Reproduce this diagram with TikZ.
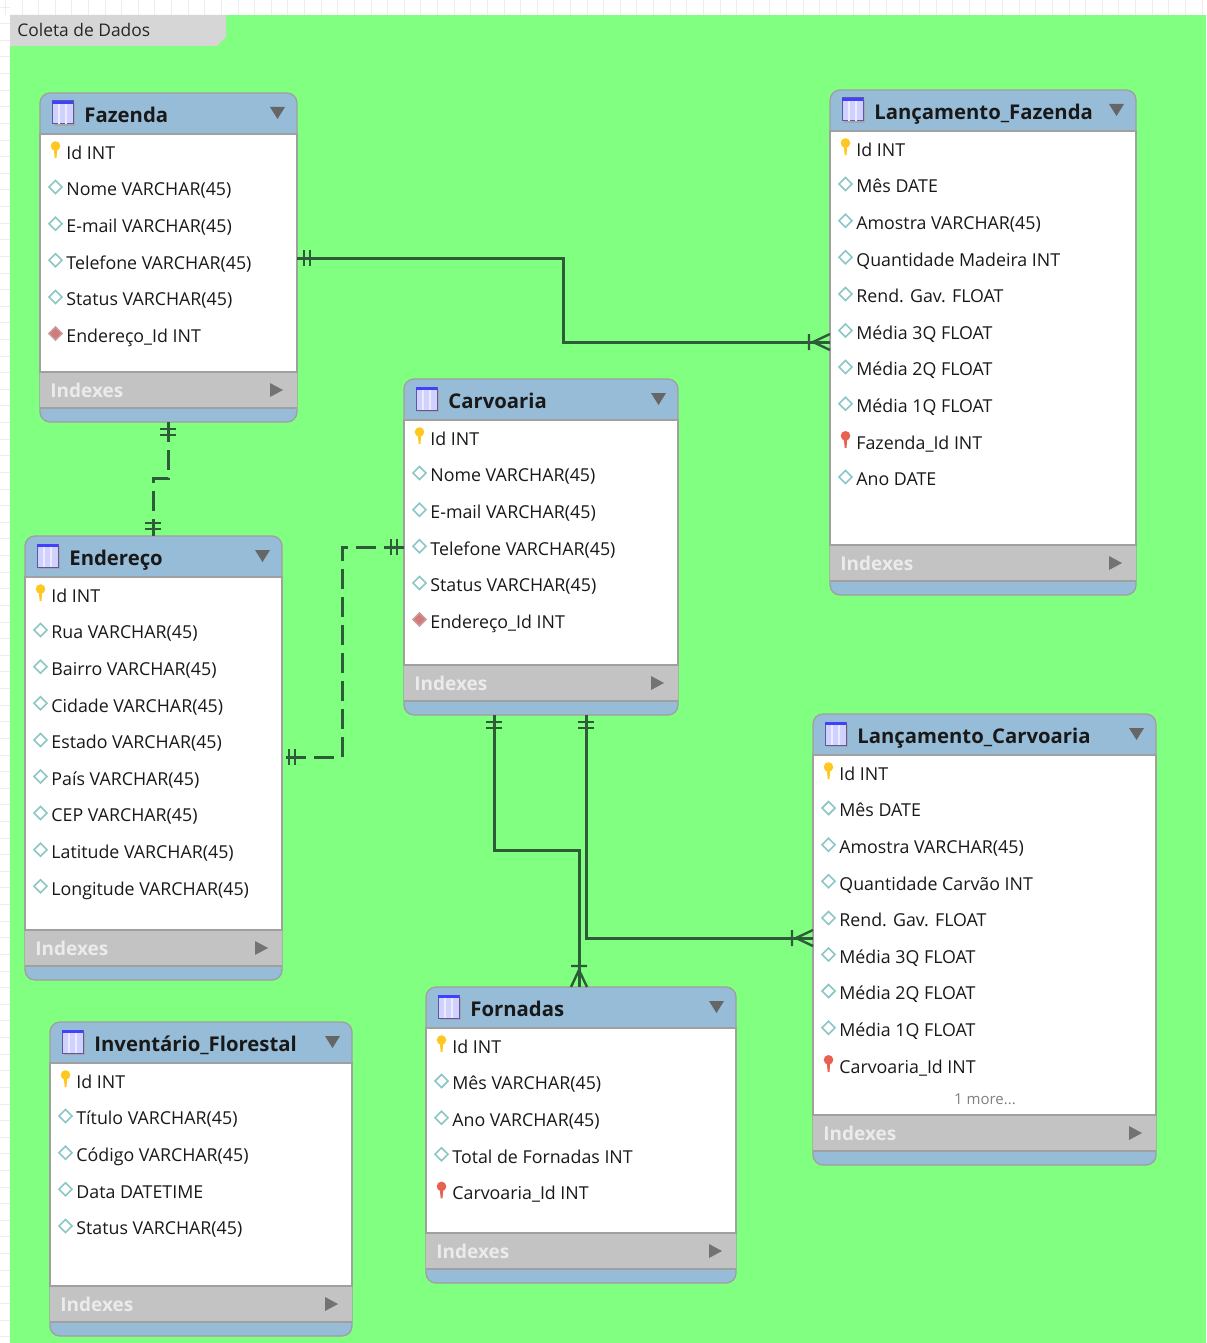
\documentclass[tikz,border=0pt]{standalone}
\usepackage{fontspec}
\setmainfont{Open Sans}
\usetikzlibrary{calc}
\definecolor{layerbg}{HTML}{80FF80}
\definecolor{headblue}{HTML}{96BCD8}
\definecolor{idxgray}{HTML}{C3C3C3}
\definecolor{tabgray}{HTML}{D6D6D6}
\definecolor{linegray}{HTML}{A0A0A0}
\definecolor{relgreen}{HTML}{2F5C38}
\definecolor{gridgray}{HTML}{EDEDED}
\definecolor{keyyellow}{HTML}{FFC820}
\definecolor{keyred}{HTML}{E8604F}
\tikzstyle{tablebox}=[rectangle,draw=linegray,line width=0.65pt,fill=headblue,rounded corners=5pt,inner sep=0pt,outer sep=0pt]
\tikzstyle{rowtext}=[anchor=base west,inner sep=0pt,font=\fontsize{8.9}{11}\selectfont,text=black!90]
\tikzstyle{titletext}=[anchor=base west,inner sep=0pt,font=\fontsize{10.15}{13}\selectfont\bfseries,text=black!90]
\tikzstyle{idxtext}=[anchor=base west,inner sep=0pt,font=\fontsize{9.5}{11}\selectfont\bfseries,text=white!92!black]
\tikzstyle{rel} = [draw=relgreen,line width=1.5pt]
\tikzstyle{optrel} = [rel,dash pattern=on 10pt off 4pt]
\tikzset{
  onemark/.pic={\draw[rel,line width=1.3pt] (7,-8) -- (7,8) (13,-8) -- (13,8);},
  crowmark/.pic={\draw[rel,line width=1.2pt] (0,-8) -- (17,0) -- (0,8) (21,-8) -- (21,8);},
  keymark/.pic={\fill[keyyellow] (-1.8,-4) -- (1.8,-4) -- (1,6) -- (-0.8,6) -- cycle;\fill[keyyellow] (0,-6) circle (4.8);},
  fkeymark/.pic={\fill[keyred] (-1.8,-4) -- (1.8,-4) -- (1,6) -- (-0.8,6) -- cycle;\fill[keyred] (0,-6) circle (4.8);},
  colmark/.pic={\draw[draw=teal!45,fill=white,line width=0.8pt] (-6.5,-1.5) -- (0,-8) -- (6.5,-1.5) -- (0,5) -- cycle;},
  fkcolmark/.pic={\draw[draw=red!30!gray!60,fill=red!50!gray!70,line width=0.8pt] (-6.5,-1.5) -- (0,-8) -- (6.5,-1.5) -- (0,5) -- cycle;},
  iconmark/.pic={
    \fill[black!35] (2,2) rectangle (23,25);
    \draw[draw=blue!30!gray,fill=blue!18,line width=0.5pt] (0,0) rectangle (21,23);
    \fill[blue!75!white] (0,0) rectangle (21,3);
    \draw[blue!8,line width=0.6pt] (7,3) -- (7,23) (14,3) -- (14,23);}
}
% name, title, left, top, right, bottom, rows
\newcommand{\ertable}[7]{
  \node[tablebox,minimum width={(#5-#3)*0.5pt},minimum height={(#6-#4)*0.5pt}] (#1) at ({(#3+#5)/2},{(#4+#6)/2}) {};
  \fill[white] (#3,#4+41) rectangle (#5,#6-50);
  \fill[idxgray] (#3,#6-50) rectangle (#5,#6-14);
  \draw[linegray,line width=0.6pt] (#3,#4+41) rectangle (#5,#6-50) (#3,#6-14) -- (#5,#6-14);
  \pic at (#3+12,#4+8) {iconmark};
  \node[titletext] (#1-title) at (#3+44,#4+29.5) {#2};
  \fill[black!60] (#5-27,#4+14) -- (#5-12,#4+14) -- (#5-19.5,#4+26) -- cycle;
  \node[idxtext] (#1-idx) at (#3+10,#6-25) {Indexes};
  \fill[black!55] (#5-27,#6-39) -- (#5-14,#6-32) -- (#5-27,#6-25) -- cycle;
  \foreach \kind/\txt [count=\i from 0] in {#7} {
    \pic at ({#3+15.5},{#4+59+36.6*\i}) {\kind};
    \node[rowtext] (#1-\i) at ({#3+26},{#4+66.3+36.6*\i}) {\txt};
  }
}

\begin{document}
\begin{tikzpicture}[x=0.5pt,y=-0.5pt]
   \useasboundingbox (0,0) rectangle (1206,1343);

   % canvas grid and layer
   \fill[white] (0,0) rectangle (1206,1343);
   \foreach \pos in {0,...,72}
     \draw[gridgray,line width=0.4pt] ({5.3+16.62*\pos},0) -- ({5.3+16.62*\pos},15);
   \foreach \pos in {0,...,80}
     \draw[gridgray,line width=0.4pt] (0,{7+16.62*\pos}) -- (10,{7+16.62*\pos});
   \fill[layerbg] (10,15) rectangle (1206,1343);
   \fill[tabgray] (10,15) -- (226,15) -- (226,37) -- (217,46) -- (10,46) -- cycle;
   \node[anchor=base west,inner sep=0pt,font=\fontsize{8.7}{11}\selectfont,text=black!85] (layername) at (17,36.5) {Coleta de Dados};

   \ertable{Fazenda}{Fazenda}{40}{93}{297}{422}{keymark/Id INT,colmark/Nome VARCHAR(45),colmark/E-mail VARCHAR(45),colmark/Telefone VARCHAR(45),colmark/Status VARCHAR(45),fkcolmark/Endereço\_Id INT}
   \ertable{LancFazenda}{Lançamento\_Fazenda}{830}{90}{1136}{595}{keymark/Id INT,colmark/Mês DATE,colmark/Amostra VARCHAR(45),colmark/Quantidade Madeira INT,colmark/Rend. Gav. FLOAT,colmark/Média 3Q FLOAT,colmark/Média 2Q FLOAT,colmark/Média 1Q FLOAT,fkeymark/Fazenda\_Id INT,colmark/Ano DATE}
   \ertable{Carvoaria}{Carvoaria}{404}{379}{678}{715}{keymark/Id INT,colmark/Nome VARCHAR(45),colmark/E-mail VARCHAR(45),colmark/Telefone VARCHAR(45),colmark/Status VARCHAR(45),fkcolmark/Endereço\_Id INT}
   \ertable{Endereco}{Endereço}{25}{536}{282}{980}{keymark/Id INT,colmark/Rua VARCHAR(45),colmark/Bairro VARCHAR(45),colmark/Cidade VARCHAR(45),colmark/Estado VARCHAR(45),colmark/País VARCHAR(45),colmark/CEP VARCHAR(45),colmark/Latitude VARCHAR(45),colmark/Longitude VARCHAR(45)}
   \ertable{LancCarvoaria}{Lançamento\_Carvoaria}{813}{714}{1156}{1165}{keymark/Id INT,colmark/Mês DATE,colmark/Amostra VARCHAR(45),colmark/Quantidade Carvão INT,colmark/Rend. Gav. FLOAT,colmark/Média 3Q FLOAT,colmark/Média 2Q FLOAT,colmark/Média 1Q FLOAT,fkeymark/Carvoaria\_Id INT}
   \ertable{Fornadas}{Fornadas}{426}{987}{736}{1283}{keymark/Id INT,colmark/Mês VARCHAR(45),colmark/Ano VARCHAR(45),colmark/Total de Fornadas INT,fkeymark/Carvoaria\_Id INT}
   \ertable{Inventario}{Inventário\_Florestal}{50}{1022}{352}{1336}{keymark/Id INT,colmark/Título VARCHAR(45),colmark/Código VARCHAR(45),colmark/Data DATETIME,colmark/Status VARCHAR(45)}
   \node[font=\fontsize{7.5}{9}\selectfont,text=black!50,inner sep=0pt] (morerows) at (985,1099) {1 more...};

   % Connect tables with relationship lines
   \coordinate (fazOut) at (Fazenda.east |- 0,258);
   \coordinate (lfazIn) at (LancFazenda.west |- 0,342);
   \coordinate (fazDown) at (Fazenda.south -| 168,0);
   \coordinate (endUp) at (Endereco.north -| 153,0);
   \coordinate (carLeft) at (Carvoaria.west |- 0,547);
   \coordinate (endOut) at (Endereco.east |- 0,757);
   \coordinate (carDownA) at (Carvoaria.south -| 494,0);
   \coordinate (carDownB) at (Carvoaria.south -| 586,0);
   \coordinate (forUp) at (Fornadas.north -| 579,0);
   \coordinate (lcarIn) at (LancCarvoaria.west |- 0,938);

   \path[rel] (fazOut) -- (563,258) -- (563,342) -- (lfazIn);
   \path[optrel] (fazDown) -- (168,478) -- (153,478) -- (endUp);
   \path[optrel] (carLeft) -- (342,547) -- (342,757) -- (endOut);
   \path[rel] (carDownA) -- (494,850) -- (579,850) -- (forUp);
   \path[rel] (carDownB) -- (586,938) -- (lcarIn);

   \pic at (fazOut) {onemark};
   \pic[rotate=180] at (lfazIn) {crowmark};
   \pic[rotate=-90] at (fazDown) {onemark};
   \pic[rotate=90] at (endUp) {onemark};
   \pic[rotate=180] at (carLeft) {onemark};
   \pic at (endOut) {onemark};
   \pic[rotate=-90] at (carDownA) {onemark};
   \pic[rotate=-90] at (carDownB) {onemark};
   \pic[rotate=90] at (forUp) {crowmark};
   \pic[rotate=180] at (lcarIn) {crowmark};
\end{tikzpicture}
\end{document}
